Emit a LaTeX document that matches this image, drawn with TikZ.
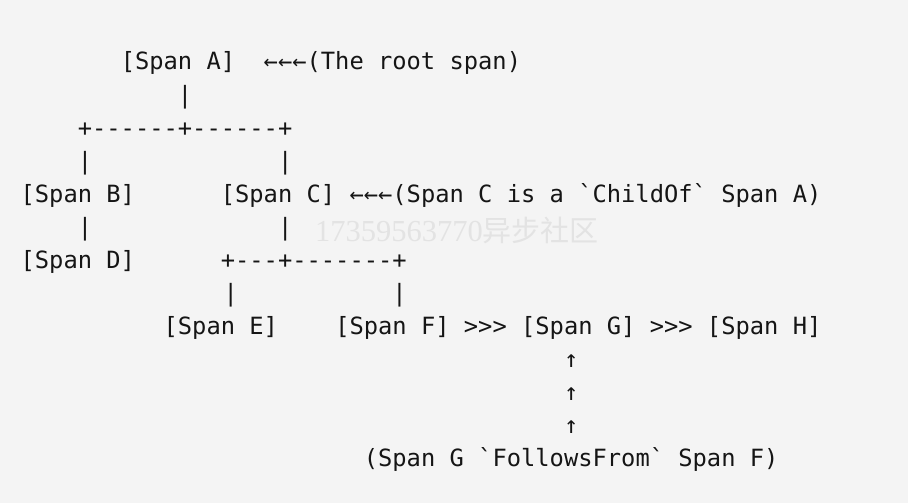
\documentclass[tikz,border=0pt]{standalone}
\usepackage{fontspec}
\setmonofont{DejaVu Sans Mono}
\newfontfamily\cjkfont{Noto Sans CJK SC}
\newfontfamily\wmfont{Liberation Serif}
\definecolor{bg}{HTML}{F4F4F4}
\definecolor{ink}{HTML}{151515}
\definecolor{wm}{HTML}{E3E3E3}
\begin{document}
\begin{tikzpicture}[x=1pt,y=1pt,
  txt/.style={anchor=base west, inner sep=0pt, outer sep=0pt, text=ink,
    font=\ttfamily\fontsize{23.75}{28}\selectfont},
  wmark/.style={anchor=base west, inner sep=0pt, text=wm}]
\fill[bg] (0,0) rectangle (908,503);
\useasboundingbox (0,0) rectangle (908,503);
% watermark
\node[wmark] (wm) at (315,261.3) {\wmfont\fontsize{30.5}{31}\selectfont 17359563770\cjkfont\fontsize{29}{31}\selectfont 异步社区};
% row 0
\node[txt] (spanA) at ({20.65+7*14.3},433) {[Span A]\ \ ←←←(The root span)};
% row 1
\node[txt] (barA) at ({20.65+11*14.3},399.9) {|};
% row 2
\node[txt] (forkA) at ({20.65+4*14.3},366.8) {+------+------+};
% row 3
\node[txt] (barB) at ({20.65+4*14.3},333.8) {|};
\node[txt] (barC) at ({20.65+18*14.3},333.8) {|};
% row 4
\node[txt] (spanB) at ({20.65+0*14.3},300.7) {[Span B]};
\node[txt] (spanC) at ({20.65+14*14.3},300.7) {[Span C] ←←←(Span C is a `ChildOf` Span A)};
% row 5
\node[txt] (barD) at ({20.65+4*14.3},267.6) {|};
\node[txt] (barC2) at ({20.65+18*14.3},267.6) {|};
% row 6
\node[txt] (spanD) at ({20.65+0*14.3},234.5) {[Span D]};
\node[txt] (forkC) at ({20.65+14*14.3},234.5) {+---+-------+};
% row 7
\node[txt] (barE) at ({20.65+14.2*14.3},201.4) {|};
\node[txt] (barF) at ({20.65+26*14.3},201.4) {|};
% row 8
\node[txt] (spanE) at ({20.65+10*14.3},168.4) {[Span E]};
\node[txt] (spanFGH) at ({20.65+22*14.3},168.4) {[Span F] >{}>{}> [Span G] >{}>{}> [Span H]};
% rows 9-11
\node[txt] (up1) at ({20.65+38*14.3},135.3) {↑};
\node[txt] (up2) at ({20.65+38*14.3},102.2) {↑};
\node[txt] (up3) at ({20.65+38*14.3},69.1) {↑};
% row 12
\node[txt] (follows) at ({20.65+24*14.3},36.0) {(Span G `FollowsFrom` Span F)};
\end{tikzpicture}
\end{document}
